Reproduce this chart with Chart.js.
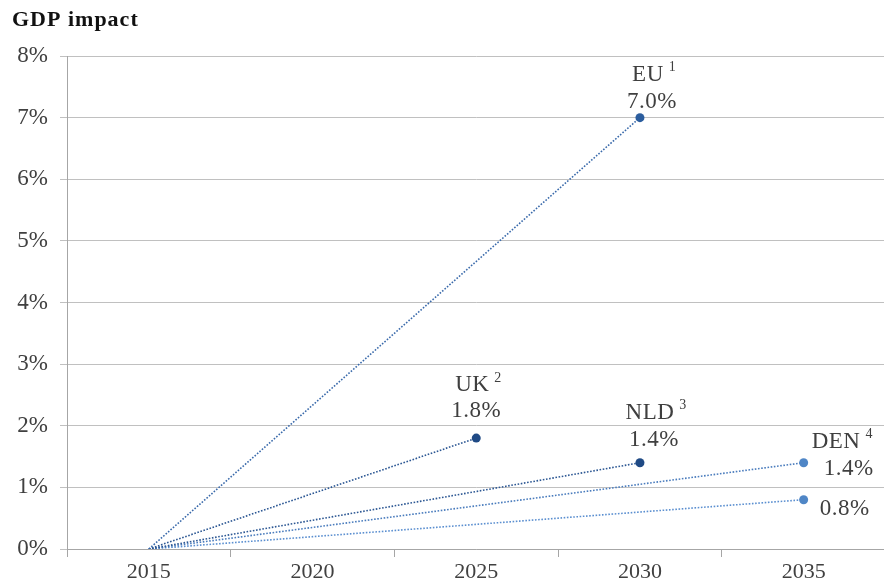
<!DOCTYPE html>
<html>
<head>
<meta charset="utf-8">
<script src="https://cdn.jsdelivr.net/npm/chart.js@4.4.1/dist/chart.umd.min.js"></script>
<style>
    html, body { margin: 0; padding: 0; background: #fff; overflow: hidden; }
    #wrap { position: absolute; left: 0; top: 0; width: 890px; height: 588px; }
</style>
</head>
<body>
<div id="wrap"><canvas id="gdpChart"></canvas></div>
<script>
// Years on the x axis and each study's projected impact
const years = ['2015', '2020', '2025', '2030', '2035'];
const baseYear = '2015';
const baseValue = 0;
const countries = ['EU', 'UK', 'NLD', 'DEN', 'DEN'];
const notes = ['1', '2', '3', '4', ''];
const targetYears = ['2030', '2025', '2030', '2035', '2035'];
const impacts = [7.0, 1.8, 1.4, 1.4, 0.8];
const yTicks = [0, 1, 2, 3, 4, 5, 6, 7, 8];

const lineColors = ['#3a6aab', '#2d5894', '#2d5894', '#4a7cbd', '#5b8fd0'];
const dotColors = ['#2b5d9e', '#1f4a85', '#1f4a85', '#4f86c6', '#4f86c6'];

const SERIF = '"Liberation Serif", "DejaVu Serif", serif';
const TEXT = '#3f3f3f';

// label placement around each end point (name line, value line)
const labelStyle = [
    { dx: 12, nameDy: -43, valueDy: -16, align: 'center', showName: true },
    { dx: 0, nameDy: -53, valueDy: -27, align: 'center', showName: true },
    { dx: 14, nameDy: -50, valueDy: -23, align: 'center', showName: true },
    { dx: 8, nameDy: -21, valueDy: 6, align: 'left', showName: true },
    { dx: 16, nameDy: 0, valueDy: 9, align: 'left', showName: false }
];

const datasets = countries.map((c, i) => ({
    label: c,
    data: years.map(y => y === baseYear ? baseValue : (y === targetYears[i] ? impacts[i] : null)),
    spanGaps: true,
    borderColor: lineColors[i],
    borderWidth: 1.6,
    borderDash: [1.6, 1.6],
    pointRadius: years.map(y => y === baseYear ? 0 : 4.5),
    pointBackgroundColor: dotColors[i],
    pointBorderColor: dotColors[i],
    pointBorderWidth: 0,
    fill: false,
    tension: 0
}));

// Title and point labels
const labelsPlugin = {
    id: 'gdpLabels',
    afterDatasetsDraw(chart) {
        const ctx = chart.ctx;
        ctx.save();
        ctx.fillStyle = '#111';
        ctx.font = 'bold 22px ' + SERIF;
        ctx.letterSpacing = '1px';
        ctx.textAlign = 'left';
        ctx.textBaseline = 'middle';
        ctx.fillText('GDP impact', 12, 20);
        ctx.letterSpacing = '0.5px';

        ctx.fillStyle = TEXT;
        datasets.forEach((ds, i) => {
            const meta = chart.getDatasetMeta(i);
            const idx = years.indexOf(targetYears[i]);
            const pt = meta.data[idx];
            const s = labelStyle[i];
            ctx.font = '23px ' + SERIF;
            ctx.textBaseline = 'middle';
            ctx.textAlign = s.align;
            if (s.showName) {
                const nameW = ctx.measureText(countries[i]).width;
                const supW = 8;
                const nx = s.align === 'left' ? pt.x + s.dx : pt.x + s.dx - supW / 2;
                ctx.fillText(countries[i], nx, pt.y + s.nameDy);
                const end = s.align === 'left' ? nx + nameW : nx + nameW / 2;
                ctx.font = '14px ' + SERIF;
                ctx.textAlign = 'left';
                ctx.fillText(notes[i], end + 5, pt.y + s.nameDy - 7);
            }
            ctx.font = '23px ' + SERIF;
            ctx.textAlign = s.align;
            const val = impacts[i].toFixed(1) + '%';
            const vx = s.align === 'left' ? pt.x + s.dx + (s.showName ? 12 : 0) : pt.x + s.dx;
            ctx.fillText(val, vx, pt.y + s.valueDy);
        });
        ctx.restore();
    }
};

new Chart(document.getElementById('gdpChart'), {
    type: 'line',
    data: { labels: years, datasets },
    plugins: [labelsPlugin],
    options: {
        responsive: true,
        maintainAspectRatio: false,
        animation: false,
        layout: { padding: { top: 56, right: 1, left: 0, bottom: 0 } },
        plugins: { legend: { display: false }, tooltip: { enabled: false } },
        scales: {
            x: {
                offset: true,
                afterFit: s => { s.height = 39; },
                grid: { offset: true, drawOnChartArea: false, color: '#a6a6a6', tickLength: 8 },
                border: { color: '#a6a6a6' },
                ticks: { color: '#404040', font: { family: SERIF, size: 22 }, padding: 2, maxRotation: 0 }
            },
            y: {
                min: 0,
                max: 8,
                afterFit: s => { s.width = 67; },
                afterBuildTicks: s => { s.ticks = yTicks.map(v => ({ value: v })); },
                grid: { color: '#c0c0c0', tickLength: 7 },
                border: { color: '#a6a6a6' },
                ticks: {
                    color: '#404040',
                    font: { family: SERIF, size: 23 },
                    padding: 12,
                    callback: v => v + '%'
                }
            }
        }
    }
});
</script>
</body>
</html>
